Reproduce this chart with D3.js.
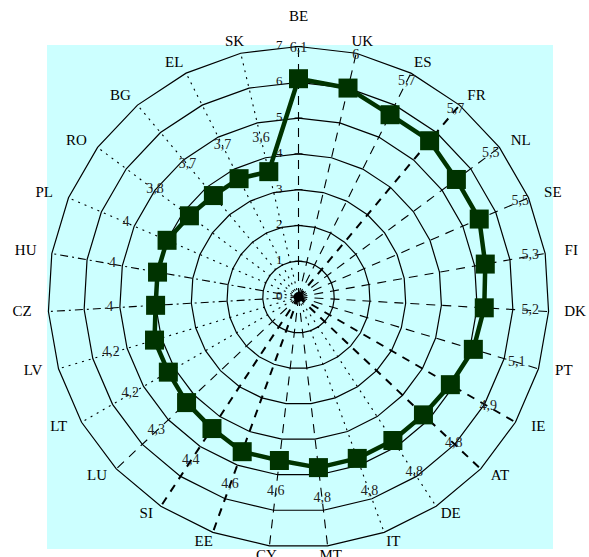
<!DOCTYPE html>
<html><head><meta charset="utf-8">
<script src="https://cdn.jsdelivr.net/npm/d3@7"></script>
<style>html,body{margin:0;padding:0;background:#fff;} svg{display:block;}</style>
</head><body>
<svg id="chart" width="589" height="557"></svg>
<script>
const categories = ["BE","UK","ES","FR","NL","SE","FI","DK","PT","IE","AT","DE","IT","MT","CY","EE","SI","LU","LT","LV","CZ","HU","PL","RO","BG","EL","SK"];
const values = [6.1,6,5.7,5.7,5.5,5.5,5.3,5.2,5.1,4.9,4.8,4.8,4.8,4.8,4.6,4.6,4.4,4.3,4.2,4.2,4,4,4,3.8,3.7,3.7,3.6];
const ringTicks = [0,1,2,3,4,5,6,7];
const tickLabels = ["0","1","2","3","4","5","6","7"];

const cx = 298.5, cy = 297;
const svg = d3.select("#chart");
svg.append("rect").attr("x",47).attr("y",45).attr("width",506).attr("height",504).attr("fill","#CCFFFF");

const r = d3.scaleLinear().domain([0,7]).range([0,250.5]);
const ang = d3.scaleBand().domain(categories).range([0,2*Math.PI]).paddingInner(0).paddingOuter(0);
const pt = (c, v) => [cx + r(v)*Math.sin(ang(c)), cy - r(v)*Math.cos(ang(c))];
const closed = d3.line().curve(d3.curveLinearClosed);

// spokes
const bold = new Set(["FR","IE","AT","EE","SI"]);
const dotted = new Set(["DE","IT","LT","LV","PL","RO","BG","EL","SK"]);
const dashdot = new Set(["CZ","HU"]);
svg.append("g").selectAll("line").data(categories).join("line")
  .attr("x1",cx).attr("y1",cy)
  .attr("x2",c=>pt(c,7)[0]).attr("y2",c=>pt(c,7)[1])
  .attr("stroke","#000")
  .attr("stroke-width",c=>bold.has(c)?2:1.1)
  .attr("stroke-dasharray",c=>bold.has(c)?"8,7":dotted.has(c)?"2,5":dashdot.has(c)?"8,4,2,4":"9,7");

// rings
svg.append("g").selectAll("path").data(ringTicks.filter(t=>t>0)).join("path")
  .attr("d",t=>closed(categories.map(c=>pt(c,t))))
  .attr("fill","none").attr("stroke","#000").attr("stroke-width",1.2);

// value axis ticks + labels on BE axis
const ax = svg.append("g");
ax.selectAll("line").data(ringTicks).join("line")
  .attr("x1",cx-4).attr("x2",cx+4)
  .attr("y1",t=>cy-r(t)).attr("y2",t=>cy-r(t))
  .attr("stroke","#000").attr("stroke-width",1);
ax.selectAll("text").data(ringTicks).join("text")
  .attr("x",cx-16).attr("y",t=>cy-r(t))
  .attr("text-anchor","end").attr("dominant-baseline","middle")
  .attr("font-family","Liberation Serif").attr("font-size",13).attr("fill","#111")
  .text((t,i)=>tickLabels[i]);

svg.append("circle").attr("cx",cx).attr("cy",cy).attr("r",5).attr("fill","#000");

// data line
const dataPts = categories.map((c,i)=>pt(c,values[i]));
svg.append("path").attr("d",closed(dataPts))
  .attr("fill","none").attr("stroke","#003300").attr("stroke-width",4.5).attr("stroke-linejoin","round");
svg.append("g").selectAll("rect").data(dataPts).join("rect")
  .attr("x",d=>d[0]-9.5).attr("y",d=>d[1]-9.5).attr("width",19).attr("height",19)
  .attr("fill","#003300");

// data labels
const lblOff = c => 30 + 16*Math.abs(Math.sin(ang(c)));
svg.append("g").selectAll("text").data(categories).join("text")
  .attr("x",(c,i)=>cx+(r(values[i])+lblOff(c))*Math.sin(ang(c)))
  .attr("y",(c,i)=>cy-(r(values[i])+lblOff(c))*Math.cos(ang(c)))
  .attr("text-anchor","middle").attr("dominant-baseline","middle")
  .attr("font-family","Liberation Serif").attr("font-size",14).attr("fill","#222")
  .text((c,i)=>String(values[i]).replace(".",","));

// category labels (elliptical placement)
svg.append("g").selectAll("text").data(categories).join("text")
  .attr("x",c=>cx+277*Math.sin(ang(c)))
  .attr("y",c=>cy-(ang(c)===0?279:261)*Math.cos(ang(c)))
  .attr("text-anchor","middle").attr("dominant-baseline","middle")
  .attr("font-family","Liberation Serif").attr("font-size",15).attr("fill","#000")
  .text(c=>c);
</script>
</body></html>
